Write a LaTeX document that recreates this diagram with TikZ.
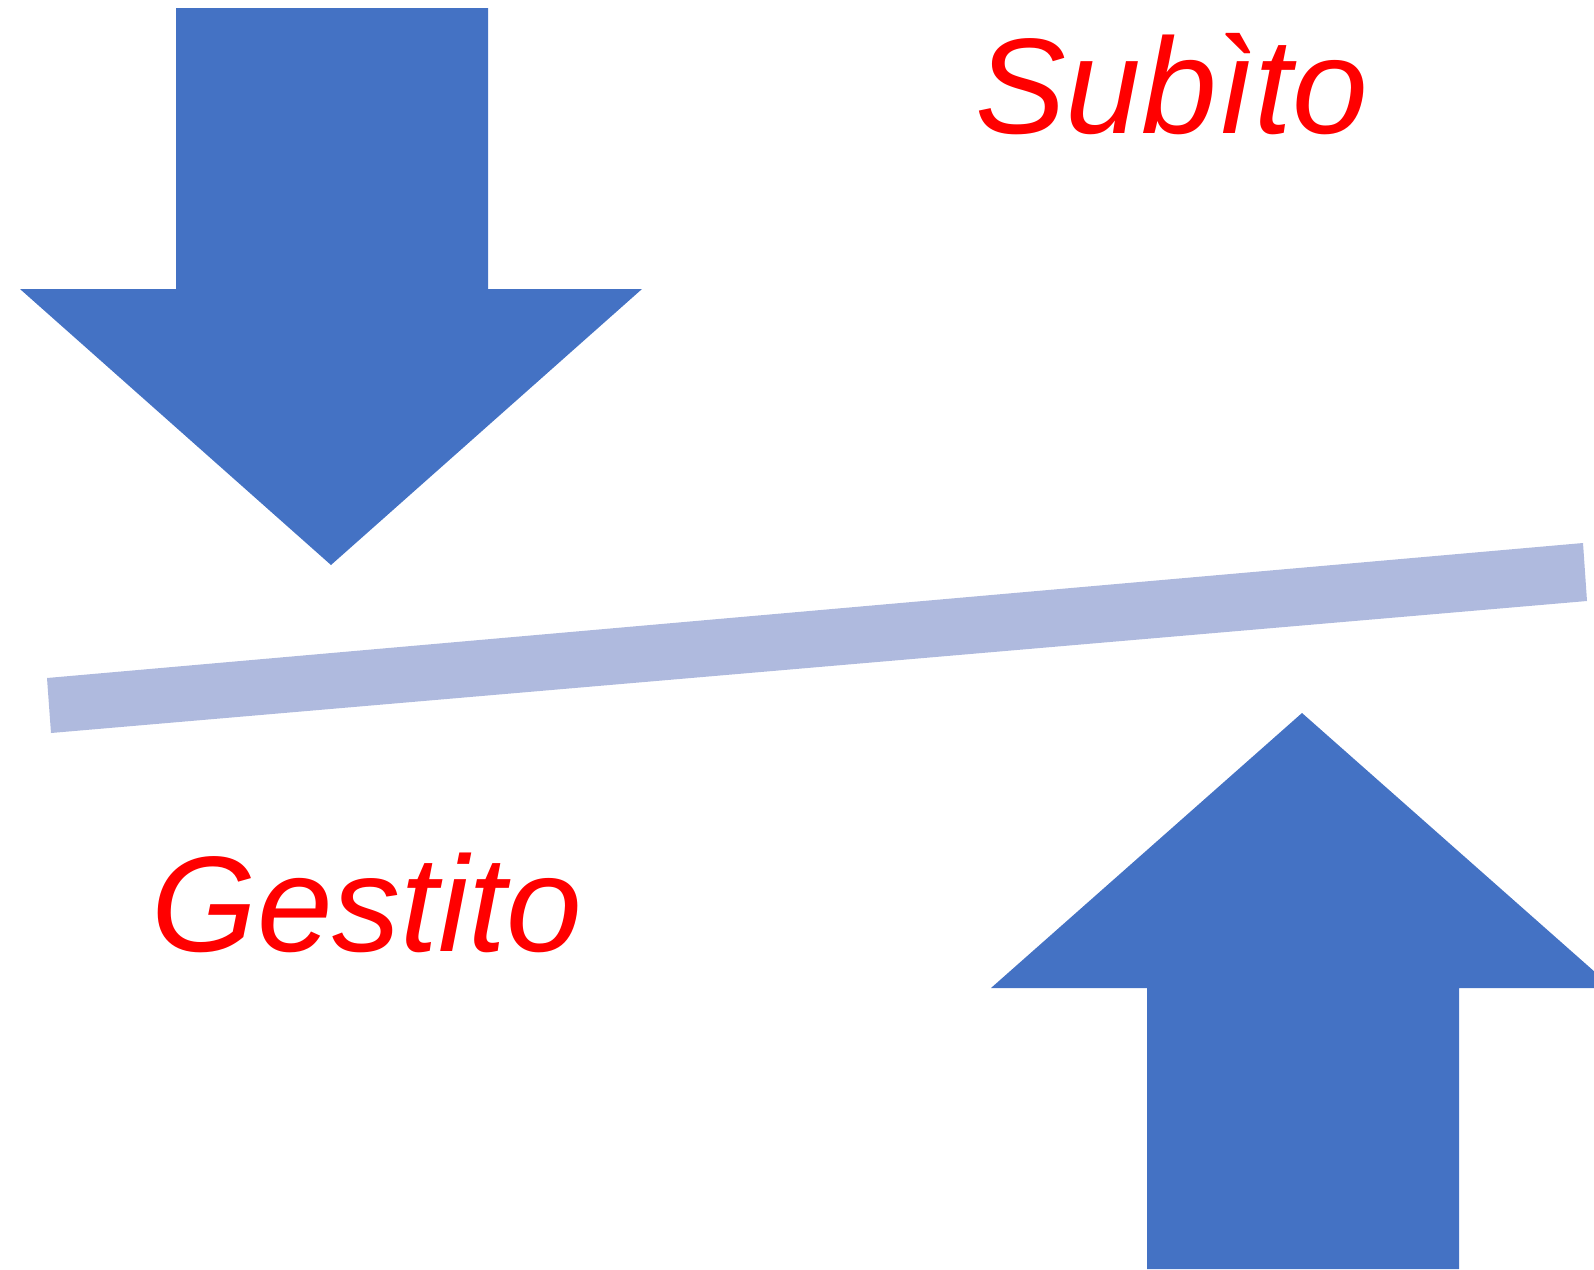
\documentclass[tikz,border=0pt]{standalone}
\usepackage{fontspec}
\setmainfont{Liberation Sans}
\definecolor{arrowblue}{HTML}{4472C4}
\definecolor{barblue}{HTML}{AFBADE}
\definecolor{labelred}{HTML}{FF0000}
\begin{document}
\begin{tikzpicture}[x=1pt,y=-1pt,
  bigarrow/.style={fill=arrowblue,draw=none},
  tiltbar/.style={fill=barblue,draw=none},
  lbl/.style={text=labelred,font=\fontsize{136}{150}\selectfont\itshape,inner sep=0pt,anchor=base west}]
\useasboundingbox (0,0) rectangle (1594,1269);
% top arrow (down)
\fill[bigarrow] (176,8) -- (488,8) -- (488,289) -- (642,289) -- (331,565) -- (20,289) -- (176,289) -- cycle;
% tilted bar
\fill[tiltbar] (47,678) -- (1583,543) -- (1587,601) -- (51,733) -- cycle;
% bottom arrow (up)
\fill[bigarrow] (1147,1269) -- (1147,988) -- (991,988) -- (1302,713) -- (1613,988) -- (1459,988) -- (1459,1269) -- cycle;
% labels
\node[lbl] (subito) at (975,133) {Subìto};
\node[lbl] (gestito) at (151,951) {Gestito};
\end{tikzpicture}
\end{document}
